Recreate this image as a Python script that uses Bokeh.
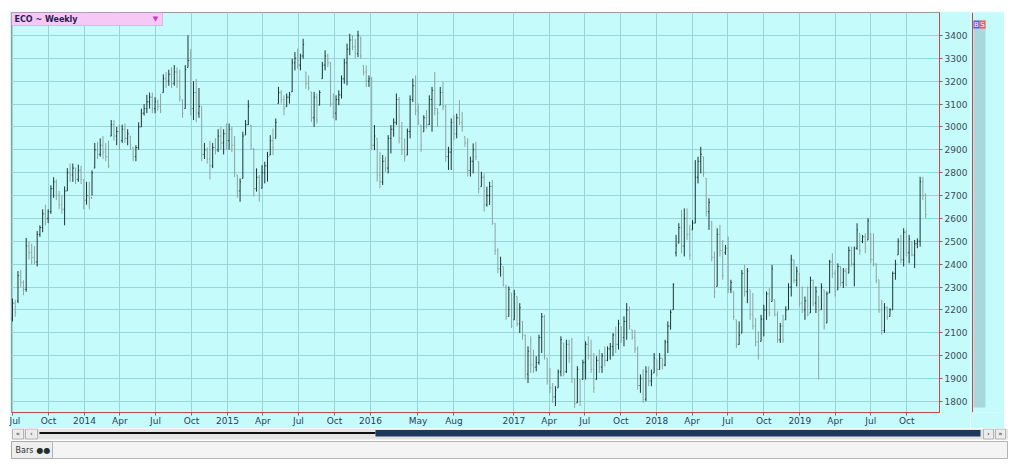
import pandas as pd
from bokeh.plotting import figure
from bokeh.layouts import column, row
from bokeh.models import FixedTicker, BoxAnnotation, Label, ColumnDataSource, Range1d
from bokeh.core.properties import value
from bokeh.embed import file_html
from bokeh.resources import INLINE

# ---------------- data ----------------
chart_title = "ECO ~ Weekly"
start_date = "2013-07-01"   # first weekly bar

high = [
    2250, 2245, 2370, 2375, 2330, 2515, 2500, 2490, 2480, 2545,
    2570, 2640, 2660, 2640, 2745, 2780, 2770, 2720, 2700, 2740,
    2820, 2840, 2840, 2820, 2835, 2830, 2770, 2760, 2760, 2810,
    2930, 2935, 2950, 2960, 2930, 2940, 3030, 3030, 3000, 3010,
    3010, 3015, 2990, 2960, 2910, 2920, 3020, 3080, 3100, 3140,
    3150, 3150, 3130, 3120, 3145, 3230, 3240, 3250, 3260, 3270,
    3260, 3250, 3120, 3270, 3400, 3340, 3200, 3210, 3170, 3090,
    2930, 2910, 2940, 2930, 2950, 2990, 3000, 2990, 3015, 3015,
    3000, 2960, 2790,
    2775, 2979, 3030, 3117, 3008, 2906, 2819,
    2790, 2833, 2848, 2891, 2964, 2993, 3037, 3175, 3160, 3138,
    3146, 3153, 3298, 3327, 3342, 3320, 3385, 3240, 3225, 3153,
    3153, 3146, 3160, 3284, 3335, 3320, 3284, 3146, 3138, 3160,
    3225, 3298, 3364, 3407, 3400, 3385, 3420, 3393, 3269, 3269,
    3225, 3218, 3008, 2950, 2891, 2877, 2870, 2964, 3008, 3037,
    3146, 3131, 3022, 2950, 2993, 3138, 3211, 3225, 3102, 3008,
    3051, 3073, 3138, 3175, 3240, 3080, 3175, 3196, 3095, 2913,
    3037, 3051, 3058, 3117, 3066, 2957, 2950, 2870,
    2928, 2935,
    2848, 2804, 2797, 2739, 2760, 2768, 2579, 2470, 2433, 2390,
    2310, 2303, 2274, 2288, 2259, 2230, 2150, 2092, 2041, 2085,
    2027, 1998, 2092, 2187, 2179, 1990, 1947, 1881, 1867, 1940,
    2085, 2056, 2070, 2070, 2078, 1903, 1954, 1896, 1983, 2063,
    2085, 2070, 2012, 1998, 2027, 2012, 2041, 2041, 2056, 2099,
    2128, 2157, 2128, 2172, 2230, 2216, 2114, 2114, 2041, 1918,
    1940, 1954, 1954, 1940, 2012, 1983, 2012, 1990, 2070, 2150,
    2201, 2317, 2528, 2579, 2637, 2644, 2644, 2572, 2593, 2855,
    2870, 2913,
    2870, 2775, 2688, 2586, 2455, 2557, 2572, 2506,
    2484, 2521, 2332, 2281, 2157, 2150, 2375, 2397, 2383, 2288,
    2274, 2165, 2106, 2179, 2223, 2281, 2296, 2397, 2245, 2194,
    2143, 2179, 2216, 2317, 2441, 2419, 2390, 2361, 2303, 2259,
    2303, 2346, 2332, 2303, 2259, 2317, 2288, 2281, 2419, 2448,
    2375, 2404, 2390, 2383, 2383, 2477, 2477, 2477, 2579, 2535,
    2528, 2535, 2601, 2535, 2535, 2404, 2332, 2245, 2230, 2216,
    2208, 2368, 2419, 2513, 2528, 2557, 2550, 2528, 2499, 2506,
    2513, 2782, 2782, 2710,
]

low = [
    2150, 2170, 2230, 2300, 2265, 2280, 2420, 2400, 2400, 2390,
    2520, 2540, 2570, 2580, 2620, 2690, 2680, 2640, 2620, 2570,
    2720, 2760, 2760, 2750, 2760, 2750, 2640, 2660, 2640, 2700,
    2820, 2860, 2870, 2860, 2850, 2820, 2960, 2940, 2920, 2900,
    2930, 2930, 2920, 2900, 2850, 2850, 2900, 3000, 3050, 3060,
    3080, 3060, 3060, 3070, 3060, 3150, 3170, 3180, 3170, 3180,
    3170, 3110, 3040, 3080, 3260, 3050, 3030, 3020, 3040, 2850,
    2860, 2840, 2770, 2820, 2880, 2890, 2900, 2880, 2900, 2900,
    2890, 2780, 2690,
    2673, 2775, 2965, 3008, 2899, 2695, 2717,
    2673, 2732, 2753, 2761, 2877, 2877, 2950, 3102, 3102, 3051,
    3088, 3102, 3153, 3247, 3255, 3247, 3298, 3167, 3160, 3022,
    3000, 3015, 3095, 3211, 3247, 3262, 3088, 3037, 3029, 3095,
    3124, 3189, 3182, 3313, 3335, 3298, 3305, 3298, 3225, 3175,
    3175, 2899, 2899, 2761, 2732, 2746, 2804, 2797, 2884, 2957,
    3008, 2928, 2877, 2848, 2877, 2950, 3109, 3051, 3008, 2891,
    2979, 2993, 3008, 2979, 3051, 3000, 3095, 3073, 2848, 2812,
    2812, 2942, 2950, 3008, 2979, 2913, 2783, 2783,
    2797, 2855,
    2710, 2739, 2630, 2652, 2659, 2572, 2441, 2361, 2346, 2303,
    2157, 2172, 2121, 2157, 2128, 2100, 2070, 1896, 1881, 1925,
    1925, 1932, 1961, 2012, 1983, 1874, 1838, 1794, 1780, 1860,
    1910, 1910, 1925, 1969, 1881, 1772, 1794, 1780, 1896, 1896,
    1983, 1925, 1838, 1896, 1925, 1925, 1954, 1976, 1983, 1998,
    2012, 2027, 2056, 2041, 2070, 2114, 2070, 2012, 1852, 1838,
    1794, 1801, 1867, 1867, 1925, 1910, 1940, 1940, 1954, 2012,
    2114, 2201, 2434, 2492, 2448, 2434, 2506, 2419, 2550, 2579,
    2753, 2797,
    2782, 2608, 2550, 2412, 2252, 2303, 2434, 2332,
    2441, 2274, 2274, 2157, 2034, 2048, 2099, 2259, 2230, 2157,
    2114, 2041, 1983, 2063, 2085, 2157, 2172, 2237, 2172, 2056,
    2056, 2056, 2157, 2201, 2259, 2317, 2303, 2216, 2187, 2157,
    2172, 2187, 2216, 2187, 1896, 2201, 2114, 2143, 2274, 2339,
    2259, 2288, 2303, 2296, 2303, 2361, 2390, 2303, 2463, 2441,
    2492, 2448, 2506, 2404, 2390, 2317, 2187, 2092, 2100, 2157,
    2172, 2201, 2332, 2441, 2404, 2390, 2434, 2404, 2434, 2383,
    2470, 2477, 2681, 2601,
]

open_ = [
    2160, 2230, 2240, 2350, 2320, 2290, 2480, 2450, 2430, 2410,
    2530, 2560, 2620, 2600, 2630, 2730, 2760, 2700, 2660, 2640,
    2720, 2800, 2790, 2820, 2770, 2810, 2770, 2680, 2700, 2690,
    2820, 2900, 2880, 2920, 2890, 2870, 2960, 3010, 2960, 2980,
    2940, 2990, 2950, 2960, 2910, 2870, 2910, 3000, 3060, 3080,
    3110, 3130, 3080, 3110, 3090, 3150, 3210, 3200, 3230, 3190,
    3240, 3200, 3120, 3080, 3260, 3290, 3080, 3150, 3060, 3090,
    2880, 2900, 2860, 2830, 2910, 2900, 2960, 2930, 2970, 2940,
    2990, 2920, 2790,
    2720, 2775, 2965, 3010, 3008, 2906, 2730,
    2780, 2732, 2800, 2830, 2877, 2940, 2950, 3102, 3150, 3120,
    3088, 3130, 3153, 3280, 3300, 3270, 3310, 3240, 3190, 3153,
    3040, 3130, 3095, 3211, 3270, 3310, 3280, 3100, 3060, 3120,
    3140, 3210, 3280, 3340, 3380, 3350, 3320, 3393, 3269, 3240,
    3200, 3210, 2920, 2950, 2790, 2760, 2850, 2820, 2950, 2990,
    3020, 3120, 2950, 2900, 2877, 2980, 3120, 3180, 3070, 3008,
    2979, 3040, 3010, 3120, 3160, 3080, 3095, 3150, 3090, 2870,
    2890, 3020, 2970, 3040, 3020, 2957, 2930, 2810,
    2850, 2900,
    2848, 2739, 2780, 2660, 2700, 2740, 2579, 2460, 2380, 2390,
    2300, 2172, 2274, 2157, 2259, 2140, 2150, 2090, 1920, 2020,
    1960, 1950, 1970, 2080, 2170, 1990, 1890, 1860, 1820, 1860,
    1930, 2056, 1930, 2050, 1990, 1900, 1794, 1896, 1896, 1970,
    2050, 2000, 1940, 1896, 1980, 1950, 2000, 1980, 2030, 2040,
    2090, 2050, 2128, 2080, 2150, 2200, 2114, 2080, 2030, 1870,
    1900, 1810, 1930, 1890, 1925, 1983, 1940, 1990, 1960, 2060,
    2130, 2201, 2450, 2492, 2560, 2480, 2600, 2530, 2550, 2580,
    2780, 2850,
    2870, 2775, 2630, 2586, 2430, 2303, 2530, 2460,
    2450, 2470, 2290, 2281, 2157, 2050, 2099, 2360, 2280, 2288,
    2180, 2130, 2060, 2063, 2160, 2200, 2270, 2237, 2245, 2180,
    2070, 2130, 2157, 2201, 2300, 2419, 2330, 2361, 2230, 2200,
    2240, 2187, 2330, 2230, 2259, 2201, 2288, 2143, 2274, 2410,
    2360, 2288, 2390, 2320, 2370, 2361, 2460, 2400, 2470, 2535,
    2500, 2520, 2506, 2535, 2420, 2400, 2332, 2200, 2110, 2210,
    2172, 2201, 2360, 2441, 2500, 2420, 2540, 2450, 2499, 2440,
    2490, 2500, 2760, 2700,
]

close = [
    2230, 2190, 2350, 2320, 2290, 2480, 2450, 2430, 2410, 2530,
    2560, 2620, 2600, 2630, 2730, 2760, 2700, 2660, 2640, 2720,
    2800, 2790, 2820, 2770, 2810, 2770, 2680, 2700, 2690, 2800,
    2900, 2880, 2920, 2890, 2870, 2830, 3010, 2960, 2980, 2940,
    2990, 2950, 2970, 2920, 2870, 2910, 3000, 3060, 3080, 3110,
    3130, 3080, 3110, 3090, 3070, 3210, 3200, 3230, 3190, 3240,
    3200, 3130, 3060, 3250, 3290, 3080, 3150, 3060, 3090, 2880,
    2900, 2860, 2830, 2910, 2900, 2960, 2930, 2970, 2940, 2990,
    2920, 2800, 2720,
    2760, 2960, 3010, 3090, 2920, 2730, 2780,
    2700, 2800, 2830, 2870, 2940, 2910, 3020, 3150, 3120, 3080,
    3130, 3140, 3280, 3300, 3270, 3310, 3360, 3190, 3170, 3040,
    3130, 3030, 3150, 3270, 3310, 3280, 3100, 3060, 3120, 3140,
    3210, 3280, 3340, 3380, 3350, 3320, 3400, 3310, 3240, 3200,
    3210, 2920, 2960, 2790, 2760, 2850, 2820, 2950, 2990, 3020,
    3120, 2950, 2900, 2870, 2980, 3120, 3180, 3070, 3020, 2920,
    3040, 3010, 3120, 3160, 3080, 3060, 3150, 3090, 2870, 2890,
    3020, 2970, 3040, 3020, 3000, 2930, 2810, 2850,
    2900, 2870,
    2730, 2780, 2660, 2700, 2740, 2580, 2460, 2380, 2400, 2310,
    2170, 2290, 2130, 2270, 2140, 2210, 2090, 1920, 2020, 1960,
    1950, 1970, 2080, 2170, 2000, 1890, 1860, 1820, 1850, 1930,
    2070, 1930, 2050, 1990, 1900, 1790, 1940, 1800, 1970, 2050,
    2000, 1940, 1860, 1980, 1950, 2000, 1980, 2030, 2040, 2090,
    2050, 2140, 2080, 2150, 2200, 2130, 2080, 2030, 1870, 1900,
    1810, 1930, 1890, 1920, 1990, 1940, 1990, 1960, 2060, 2130,
    2190, 2310, 2480, 2560, 2480, 2600, 2530, 2440, 2580, 2780,
    2850, 2880,
    2800, 2630, 2670, 2430, 2280, 2530, 2460, 2350,
    2470, 2290, 2320, 2170, 2050, 2090, 2360, 2280, 2370, 2180,
    2130, 2060, 2000, 2160, 2200, 2270, 2190, 2380, 2180, 2070,
    2130, 2070, 2200, 2300, 2420, 2330, 2370, 2230, 2200, 2240,
    2180, 2330, 2230, 2280, 2200, 2300, 2130, 2270, 2410, 2360,
    2280, 2390, 2320, 2370, 2310, 2460, 2400, 2470, 2550, 2460,
    2520, 2470, 2590, 2420, 2400, 2330, 2200, 2110, 2210, 2170,
    2200, 2360, 2400, 2500, 2420, 2540, 2450, 2510, 2440, 2490,
    2500, 2760, 2700, 2617,
]

tick_dates = ["2013-07-01", "2013-10-01", "2014-01-01", "2014-04-01", "2014-07-01",
              "2014-10-01", "2015-01-01", "2015-04-01", "2015-07-01", "2015-10-01",
              "2016-01-01", "2016-05-01", "2016-08-01", "2017-01-01", "2017-04-01",
              "2017-07-01", "2017-10-01", "2018-01-01", "2018-04-01", "2018-07-01",
              "2018-10-01", "2019-01-01", "2019-04-01", "2019-07-01", "2019-10-01"]
tick_labels = ["Jul", "Oct", "2014", "Apr", "Jul", "Oct", "2015", "Apr", "Jul", "Oct",
               "2016", "May", "Aug", "2017", "Apr", "Jul", "Oct", "2018", "Apr", "Jul",
               "Oct", "2019", "Apr", "Jul", "Oct"]
price_ticks = [1800, 1900, 2000, 2100, 2200, 2300, 2400, 2500, 2600, 2700,
               2800, 2900, 3000, 3100, 3200, 3300, 3400]

# ---------------- styling ----------------
BG = "#c6fbfb"
GRID = "#98d4d8"
AXIS_RED = "#c24a4a"
UP = "#1d3535"
DOWN = "#8da3a3"
DAY = 86400000.0
FONT = "DejaVu Sans"

n = len(close)
dates = pd.date_range(start_date, periods=n, freq="7D")
x_ms = [d.value / 1e6 for d in dates]
tick_ms = [pd.Timestamp(d).value / 1e6 for d in tick_dates]
tick_w = 2.4 * DAY
colors = [UP if c >= o else DOWN for o, c in zip(open_, close)]

src = ColumnDataSource(dict(
    x=x_ms, xl=[x - tick_w for x in x_ms], xr=[x + tick_w for x in x_ms],
    high=high, low=low, open=open_, close=close, color=colors))

# ---------------- main price chart ----------------
p = figure(width=961, height=417, x_axis_type="datetime", y_axis_location="right",
           output_backend="svg", toolbar_location=None,
           min_border_left=2, min_border_right=30, min_border_top=1, min_border_bottom=15,
           x_range=Range1d(x_ms[0] - 2.55 * DAY, x_ms[0] + 338.07 * 7 * DAY),
           y_range=Range1d(1752, 3500))

p.background_fill_color = BG
p.border_fill_color = BG
p.outline_line_color = "#9a9a9a"

p.segment(x0="x", y0="low", x1="x", y1="high", line_color="color", line_width=1, source=src)
p.segment(x0="xl", y0="open", x1="x", y1="open", line_color="color", line_width=1, source=src)
p.segment(x0="x", y0="close", x1="xr", y1="close", line_color="color", line_width=1, source=src)

xa = p.xaxis[0]
xa.ticker = FixedTicker(ticks=tick_ms)
xa.major_label_overrides = {t: lab for t, lab in zip(tick_ms, tick_labels)}
xa.axis_line_color = AXIS_RED
xa.major_tick_line_color = AXIS_RED
xa.major_tick_out = 3
xa.major_tick_in = 0
xa.minor_tick_line_color = None
xa.major_label_standoff = 0
xa.major_label_text_font = FONT
xa.major_label_text_font_size = "9px"
xa.major_label_text_color = "#2a3c5c"
xa.major_label_text_align = "right"

ya = p.yaxis[0]
ya.ticker = FixedTicker(ticks=price_ticks)
ya.axis_line_color = AXIS_RED
ya.major_tick_line_color = AXIS_RED
ya.major_tick_out = 3
ya.major_tick_in = 0
ya.minor_tick_line_color = None
ya.major_label_standoff = 2
ya.major_label_text_font = FONT
ya.major_label_text_font_size = "9px"
ya.major_label_text_color = "#3c4c58"

p.xgrid.grid_line_color = GRID
p.ygrid.grid_line_color = GRID

# header tab (canvas units, inside the frame)
p.add_layout(BoxAnnotation(left=2, right=153, top=1, bottom=14,
                           left_units="canvas", right_units="canvas",
                           top_units="canvas", bottom_units="canvas",
                           fill_color="#f6c8f6", fill_alpha=1.0, line_color="#b868b8"))
p.add_layout(Label(x=5, y=7.5, x_units="canvas", y_units="canvas", text=chart_title,
                   text_font=FONT, text_font_size="8px", text_font_style="bold",
                   text_color="#2a2050", text_baseline="middle"))
p.add_layout(Label(x=146, y=7.5, x_units="canvas", y_units="canvas", text="\u25bc",
                   text_font=FONT, text_font_size="7px", text_color="#c040c0",
                   text_align="center", text_baseline="middle"))


# ---------------- chrome panels (page-pixel coordinates) ----------------
def chrome(width, height, xr, yr, bg):
    f = figure(width=width, height=height, output_backend="svg", toolbar_location=None,
               x_range=Range1d(*xr), y_range=Range1d(*yr),
               x_axis_location=None, y_axis_location=None,
               min_border_left=0, min_border_right=0, min_border_top=0, min_border_bottom=0)
    f.grid.visible = False
    f.outline_line_color = None
    f.background_fill_color = bg
    f.border_fill_color = bg
    return f


# side strip: its frame is aligned with the main frame (page y 12..413)
s = chrome(34, 417, (970, 1004), (413, 12), BG)
side_boxes = dict(
    left=[971.5, 973, 973, 979],
    right=[972.5, 985, 979, 985],
    top=[12, 20, 20, 20],
    bottom=[413, 408, 28, 28],
    fill=[AXIS_RED, "#a8d8dc", "#5a5ae8", "#e85a5a"],
)
s.quad(left="left", right="right", top="top", bottom="bottom", fill_color="fill",
       line_color=None, source=ColumnDataSource(side_boxes))
s.text(x=[976, 982], y=[24.5, 24.5], text=["B", "S"], text_font=value(FONT),
       text_font_size="7px", text_color="white", text_align="center", text_baseline="middle")

# bottom scroll / tab rows (page y 428..460)
b = chrome(999, 32, (9, 1008), (460, 428), "white")
bottom_boxes = dict(
    left=[11, 12, 25, 39, 375, 983, 995, 11, 52],
    right=[1008, 23, 37, 375, 980, 993, 1005, 52, 1007],
    top=[428, 428.5, 428.5, 431.5, 429.5, 428.5, 428.5, 441, 441],
    bottom=[439, 438.5, 438.5, 433.5, 436, 438.5, 438.5, 458, 458],
    fill=["#e4e4e4", "#ececec", "#ececec", "#101010", "#1d3a5c", "#ececec", "#ececec",
          "#eeeeee", "#f4f4f4"],
    line=[None, "#b4b4b4", "#b4b4b4", None, None, "#b4b4b4", "#b4b4b4", "#a8a8a8", "#b4b4b4"],
)
b.quad(left="left", right="right", top="top", bottom="bottom", fill_color="fill",
       line_color="line", source=ColumnDataSource(bottom_boxes))
b.text(x=[17.5, 31, 988, 1000], y=[433.5, 433.5, 433.5, 433.5],
       text=["\u00ab", "\u2039", "\u203a", "\u00bb"],
       text_font=value(FONT), text_font_size="7px", text_color="#303030",
       text_align="center", text_baseline="middle")
b.text(x=[15], y=[449.5], text=["Bars"], text_font=value(FONT), text_font_size="8px",
       text_color="#303030", text_baseline="middle")
b.text(x=[36], y=[449.5], text=["\u25cf\u25cf"], text_font=value(FONT), text_font_size="8px",
       text_color="#1e2e2e", text_baseline="middle")

layout = column(row(p, s, spacing=0), b, spacing=0, margin=(11, 0, 0, 9))

open("out.html", "w").write(file_html(layout, INLINE))
